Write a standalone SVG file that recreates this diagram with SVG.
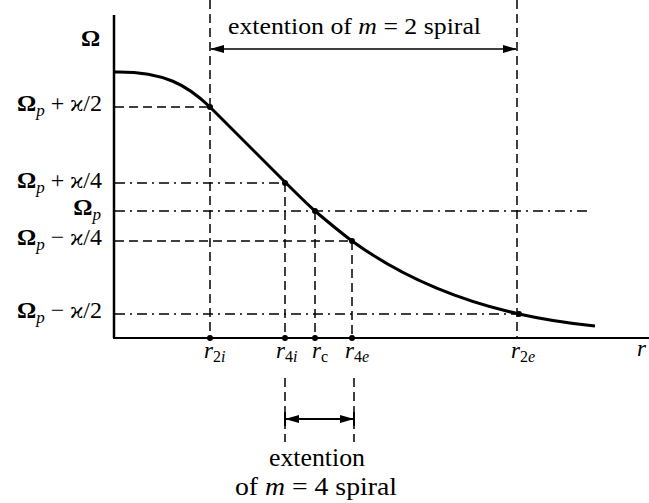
<svg xmlns="http://www.w3.org/2000/svg" width="649" height="503" viewBox="0 0 649 503">
<defs>
<style>
text{font-family:"Liberation Serif","DejaVu Serif",serif;fill:#000}
.lbl{font-size:24px}
.it{font-style:italic}
.k{font-family:"DejaVu Serif",serif;font-size:21px}
.dash{stroke:#000;stroke-width:1.5;fill:none;stroke-dasharray:9,5}
.dd{stroke:#000;stroke-width:1.4;fill:none;stroke-dasharray:10,5,2,5}
.dot{fill:#000}
</style>
<marker id="ah" viewBox="0 0 14 8" refX="13" refY="4" markerWidth="14" markerHeight="8" markerUnits="userSpaceOnUse" orient="auto-start-reverse">
<path d="M0,0 L14,4 L0,8 Z" fill="#000"/>
</marker>
</defs>
<rect width="649" height="503" fill="#fff"/>
<g id="axes" stroke="#000" fill="none">
<line x1="114" y1="15" x2="114" y2="338" stroke-width="2.5"/>
<line x1="113" y1="338" x2="649" y2="338" stroke-width="2.2"/>
</g>
<g id="guides">
<line class="dash" x1="210" y1="0" x2="210" y2="338"/>
<line class="dash" x1="517" y1="0" x2="517" y2="338"/>
<line class="dash" x1="285" y1="183" x2="285" y2="338"/>
<line class="dash" x1="315" y1="211" x2="315" y2="338"/>
<line class="dash" x1="352" y1="241" x2="352" y2="338"/>
<line class="dash" x1="285" y1="378" x2="285" y2="442"/>
<line class="dash" x1="354" y1="378" x2="354" y2="442"/>
<line class="dash" x1="115" y1="107" x2="210" y2="107"/>
<line class="dd" x1="115" y1="183" x2="285" y2="183"/>
<line class="dd" x1="115" y1="211" x2="590" y2="211"/>
<line class="dash" x1="115" y1="241" x2="352" y2="241"/>
<line class="dd" x1="115" y1="314" x2="519" y2="314"/>
</g>
<g id="curve">
<path d="M114,72 C165,71 188,86 210,107 L285,182 C296,193 305,202 315,211 C328,222 340,232 352,241 C410,283 470,303 519,314 C550,321 575,324 595,326" fill="none" stroke="#000" stroke-width="3"/>
<circle class="dot" cx="210" cy="107" r="3"/>
<circle class="dot" cx="285" cy="183" r="3"/>
<circle class="dot" cx="315" cy="211" r="3"/>
<circle class="dot" cx="352" cy="241" r="3"/>
<circle class="dot" cx="519" cy="314" r="3"/>
<circle class="dot" cx="210" cy="338" r="3"/>
<circle class="dot" cx="285" cy="338" r="3"/>
<circle class="dot" cx="315" cy="338" r="3"/>
<circle class="dot" cx="352" cy="338" r="3"/>
</g>
<g id="connectors" stroke="#000" fill="none" stroke-width="1.5">
<line x1="211" y1="49" x2="516" y2="49" marker-start="url(#ah)" marker-end="url(#ah)"/>
<line x1="286" y1="419" x2="353" y2="419" stroke-width="1.8" marker-start="url(#ah)" marker-end="url(#ah)"/>
<line x1="285" y1="412" x2="285" y2="426" stroke-width="2"/>
<line x1="354" y1="412" x2="354" y2="426" stroke-width="2"/>
</g>
<g id="y-labels" class="lbl">
<text x="81" y="46" font-weight="bold" font-size="24">Ω</text>
<text x="102" y="111" text-anchor="end"><tspan font-weight="bold">Ω</tspan><tspan class="it" font-size="17" dy="5">p</tspan><tspan dy="-5"> + </tspan><tspan class="k">ϰ</tspan><tspan>/2</tspan></text>
<text x="102" y="188" text-anchor="end"><tspan font-weight="bold">Ω</tspan><tspan class="it" font-size="17" dy="5">p</tspan><tspan dy="-5"> + </tspan><tspan class="k">ϰ</tspan><tspan>/4</tspan></text>
<text x="101" y="215" text-anchor="end"><tspan font-weight="bold">Ω</tspan><tspan class="it" font-size="17" dy="5">p</tspan></text>
<text x="102" y="245" text-anchor="end"><tspan font-weight="bold">Ω</tspan><tspan class="it" font-size="17" dy="5">p</tspan><tspan dy="-5"> − </tspan><tspan class="k">ϰ</tspan><tspan>/4</tspan></text>
<text x="102" y="318" text-anchor="end"><tspan font-weight="bold">Ω</tspan><tspan class="it" font-size="17" dy="5">p</tspan><tspan dy="-5"> − </tspan><tspan class="k">ϰ</tspan><tspan>/2</tspan></text>
</g>
<g id="r-labels" font-size="23">
<text x="204" y="358"><tspan class="it">r</tspan><tspan font-size="16" dy="4">2</tspan><tspan class="it" font-size="16">i</tspan></text>
<text x="276" y="358"><tspan class="it">r</tspan><tspan font-size="16" dy="4">4</tspan><tspan class="it" font-size="16">i</tspan></text>
<text x="312" y="358"><tspan class="it">r</tspan><tspan font-size="16" dy="4">c</tspan></text>
<text x="345" y="358"><tspan class="it">r</tspan><tspan font-size="16" dy="4">4</tspan><tspan class="it" font-size="16">e</tspan></text>
<text x="511" y="358"><tspan class="it">r</tspan><tspan font-size="16" dy="4">2</tspan><tspan class="it" font-size="16">e</tspan></text>
<text x="637" y="356" class="it">r</text>
</g>
<g id="titles" font-size="22">
<text x="228" y="34" font-size="23" textLength="253" lengthAdjust="spacingAndGlyphs">extention  of  <tspan class="it">m</tspan> = 2 spiral</text>
<text x="269" y="466" font-size="25" textLength="96" lengthAdjust="spacingAndGlyphs">extention</text>
<text x="235" y="495" font-size="25" textLength="162" lengthAdjust="spacingAndGlyphs">of  <tspan class="it">m</tspan> = 4 spiral</text>
</g>
</svg>
